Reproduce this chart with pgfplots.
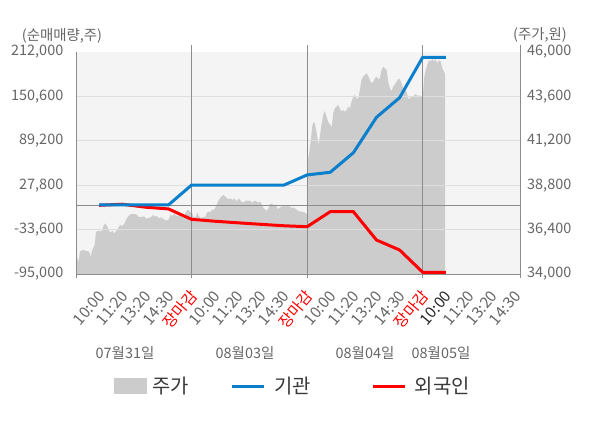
\documentclass[border=0pt]{standalone}
\usepackage{pgfplots}
\pgfplotsset{compat=1.18}
\usepackage{pgfplotstable}
\usepackage{fontspec}
\setmainfont{Noto Sans CJK KR}
\definecolor{bgc}{HTML}{F4F4F4}
\definecolor{pricec}{HTML}{CCCCCC}
\definecolor{bluec}{HTML}{0A7FCC}
\definecolor{redc}{HTML}{FF0000}
\definecolor{gridc}{HTML}{DEDEDE}
\definecolor{linec}{HTML}{8C8C8C}
\definecolor{textc}{HTML}{666666}

\pgfplotstableread{
x price
0.000 34970
0.058 34847
0.115 34667
0.173 35207
0.274 35297
0.418 35261
0.562 35207
0.634 34937
0.706 35297
0.807 35568
0.865 36288
0.994 36342
1.095 36288
1.182 36558
1.254 36739
1.355 36558
1.427 36342
1.499 36234
1.571 36342
1.643 36198
1.715 36288
1.816 36468
1.902 36649
2.003 36595
2.104 36739
2.176 36955
2.248 37099
2.363 37243
2.580 37243
2.652 37189
2.724 37063
2.796 37099
2.868 37063
2.940 37135
3.012 37009
3.113 37009
3.228 37063
3.343 37189
3.401 37099
3.488 37135
3.588 37009
3.689 37063
3.805 36955
3.920 36883
4.021 36955
4.093 37243
4.165 37099
4.237 37279
4.309 37171
4.410 37135
4.496 37243
4.597 37063
4.698 37189
4.785 37423
4.871 37459
4.929 37369
4.986 37279
5.000 37369
5.074 37099
5.160 37063
5.218 37189
5.261 37333
5.305 37135
5.362 37063
5.449 37009
5.506 37099
5.593 37063
5.651 37279
5.708 37369
5.795 37333
5.881 37459
5.982 37495
6.054 37640
6.141 37910
6.227 38090
6.314 38216
6.386 38270
6.459 38180
6.545 38090
6.603 38036
6.690 38090
6.776 38000
6.863 38090
6.950 37910
7.036 38090
7.123 37964
7.209 37856
7.296 37910
7.382 37964
7.469 37964
7.556 37946
7.642 37856
7.729 37964
7.815 37910
7.902 37856
7.989 37910
8.075 37640
8.162 37495
8.248 37423
8.306 37495
8.393 37784
8.479 37784
8.566 37730
8.652 37730
8.739 37495
8.825 37604
8.912 37640
8.999 37676
9.085 37640
9.172 37676
9.258 37640
9.345 37550
9.431 37604
9.518 37495
9.604 37423
9.691 37369
9.777 37369
9.864 37333
9.951 37279
10.000 37189
10.016 39982
10.088 40523
10.160 41243
10.232 42054
10.304 42234
10.377 41874
10.449 41333
10.492 40973
10.550 41423
10.622 42054
10.694 42595
10.766 42811
10.838 42505
10.910 42234
10.997 42054
11.069 41964
11.127 42685
11.199 42955
11.271 43045
11.343 43135
11.416 42955
11.488 42775
11.560 42865
11.632 42775
11.704 42865
11.776 43045
11.848 42955
11.921 43315
11.993 43586
12.065 43676
12.137 43495
12.209 43495
12.281 43946
12.353 44486
12.425 44666
12.498 44757
12.570 44847
12.642 44721
12.714 44486
12.786 44306
12.858 44396
12.931 44577
13.003 44666
13.075 44541
13.147 44577
13.219 45027
13.291 45207
13.364 45117
13.436 45027
13.508 44396
13.580 44036
13.652 43892
13.724 44126
13.797 44252
13.869 44396
13.941 44541
14.013 44541
14.085 44306
14.157 44036
14.229 43946
14.301 43856
14.373 43495
14.446 43495
14.518 43586
14.590 43586
14.662 43712
14.734 43676
14.806 43640
14.879 43640
14.951 43586
15.000 43586
15.013 43676
15.056 44577
15.129 45027
15.200 45297
15.273 45568
15.345 45477
15.417 45658
15.489 45477
15.561 45622
15.633 45387
15.706 45568
15.778 45477
15.850 45117
15.922 44937
15.965 44793
}\pricetable

\pgfplotstableread{
x inst
1 500
2 500
3 500
4 500
5 28000
6 28000
7 28000
8 28000
9 28000
10 42000
11 45700
12 72700
13 121700
14 148800
15 204700
16 204700
}\insttable

\pgfplotstableread{
x frgn
1 0
2 1500
3 -2600
4 -5000
5 -19400
6 -22000
7 -24200
8 -26300
9 -28300
10 -29600
11 -8800
12 -8800
13 -48000
14 -61800
15 -92600
16 -92600
}\frgntable

\newcommand{\close}{\textcolor{red}{장마감}\hspace{7bp}}

\pgfplotsset{
  base/.style={
    at={(76bp,154bp)}, anchor=south west,
    scale only axis, width=444bp, height=222bp,
    xmin=0, xmax=19.21,
    axis line style={draw=none},
    major tick length=0pt,
    scaled y ticks=false,
  },
  pricelegend/.style={legend image code/.code={\fill[pricec] (0bp,-7.5bp) rectangle (32bp,7.5bp);}},
  bluelegend/.style={legend image code/.code={\draw[bluec, line width=3bp] (0bp,0bp) -- (32bp,0bp);}},
  redlegend/.style={legend image code/.code={\draw[redc, line width=3bp] (0bp,0bp) -- (32bp,0bp);}},
}

\begin{document}
\begin{tikzpicture}[x=1bp,y=1bp]
\path[use as bounding box] (0,0) rectangle (600,428);

% price axis (right)
\begin{axis}[base,
  ymin=34000, ymax=46000,
  axis background/.style={fill=bgc},
  xtick=\empty,
  ytick={34000,36400,38800,41200,43600,46000},
  yticklabels={{34,000},{36,400},{38,800},{41,200},{43,600},{46,000}},
  yticklabel pos=right,
  yticklabel style={font=\fontsize{14.5}{16}\selectfont, text=textc, anchor=west, inner sep=0pt, xshift=7bp},
]
\addplot[fill=pricec, draw=none] table[x=x, y=price] {\pricetable} \closedcycle;
\end{axis}

% flow axis (left)
\begin{axis}[base,
  clip=false,
  ymin=-95000, ymax=212000,
  ytick={-95000,-33600,27800,89200,150600,212000},
  yticklabels={{-95,000},{-33,600},{27,800},{89,200},{150,600},{212,000}},
  yticklabel style={font=\fontsize{14.5}{16}\selectfont, text=textc, anchor=east, inner sep=0pt, xshift=-12.5bp},
  xtick={1,...,19},
  xticklabels={10:00,11:20,13:20,14:30,\close,
               10:00,11:20,13:20,14:30,\close,
               10:00,11:20,13:20,14:30,\close,
               \textcolor{black!85}{10:00},11:20,13:20,14:30},
  xticklabel style={font=\fontsize{15.5}{17}\selectfont, text=textc, rotate=50, anchor=east, inner sep=0pt, xshift=-13bp, yshift=-14bp},
  legend columns=3,
  legend style={at={(0.0856,-0.5045)}, anchor=west, draw=none, fill=none, inner sep=0pt,
    font=\fontsize{20}{22}\selectfont, text=black!78,
    nodes={inner sep=0pt},
    /tikz/column 1/.style={column sep=6bp},
    /tikz/column 2/.style={column sep=41bp},
    /tikz/column 3/.style={column sep=9bp},
    /tikz/column 4/.style={column sep=61bp},
    /tikz/column 5/.style={column sep=8bp}},
]
\addlegendimage{pricelegend}\addlegendentry{주가}
\addlegendimage{bluelegend}\addlegendentry{기관}
\addlegendimage{redlegend}\addlegendentry{외국인}
% grid lines
\draw[gridc, line width=1bp] (axis cs:0,-33600) -- (axis cs:19.21,-33600);
\draw[gridc, line width=1bp] (axis cs:0,27800) -- (axis cs:19.21,27800);
\draw[gridc, line width=1bp] (axis cs:0,89200) -- (axis cs:19.21,89200);
\draw[gridc, line width=1bp] (axis cs:0,150600) -- (axis cs:19.21,150600);
% zero line
\draw[linec, line width=1.2bp] (axis cs:0,0) -- (axis cs:19.21,0);
% frame lines
\draw[linec, line width=1bp] (axis cs:0,-95000) -- (axis cs:19.21,-95000);
\draw[linec, line width=1bp] (axis cs:0,-95000) -- (axis cs:0,212000);
\draw[linec, line width=1bp] (axis cs:5,-95000) -- ([yshift=7bp]axis cs:5,212000);
\draw[linec, line width=1bp] (axis cs:10,-95000) -- ([yshift=7bp]axis cs:10,212000);
\draw[linec, line width=1bp] (axis cs:15,-95000) -- ([yshift=7bp]axis cs:15,212000);
\draw[linec, line width=1bp] (axis cs:19.21,-95000) -- ([yshift=7bp]axis cs:19.21,212000);
\draw[linec, line width=1bp] (axis cs:0,-95000) -- ([yshift=-4bp]axis cs:0,-95000);
\draw[linec, line width=1bp] (axis cs:5,-95000) -- ([yshift=-4bp]axis cs:5,-95000);
\draw[linec, line width=1bp] (axis cs:10,-95000) -- ([yshift=-4bp]axis cs:10,-95000);
\draw[linec, line width=1bp] (axis cs:15,-95000) -- ([yshift=-4bp]axis cs:15,-95000);
\draw[linec, line width=1bp] (axis cs:19.21,-95000) -- ([yshift=-4bp]axis cs:19.21,-95000);
\addplot[redc, line width=3bp, forget plot] table[x=x, y=frgn] {\frgntable};
\addplot[bluec, line width=3bp, forget plot] table[x=x, y=inst] {\insttable};
\end{axis}

% axis titles
\node[font=\fontsize{14.5}{16}\selectfont, text=textc] at (62,392) {(순매매량,주)};
\node[font=\fontsize{14.5}{16}\selectfont, text=textc] at (540,393) {(주가,원)};
% date labels
\node[font=\fontsize{14.5}{16}\selectfont, text=textc] at (125,75) {07월31일};
\node[font=\fontsize{14.5}{16}\selectfont, text=textc] at (245,75) {08월03일};
\node[font=\fontsize{14.5}{16}\selectfont, text=textc] at (365,75) {08월04일};
\node[font=\fontsize{14.5}{16}\selectfont, text=textc] at (441,75) {08월05일};
\end{tikzpicture}
\end{document}
